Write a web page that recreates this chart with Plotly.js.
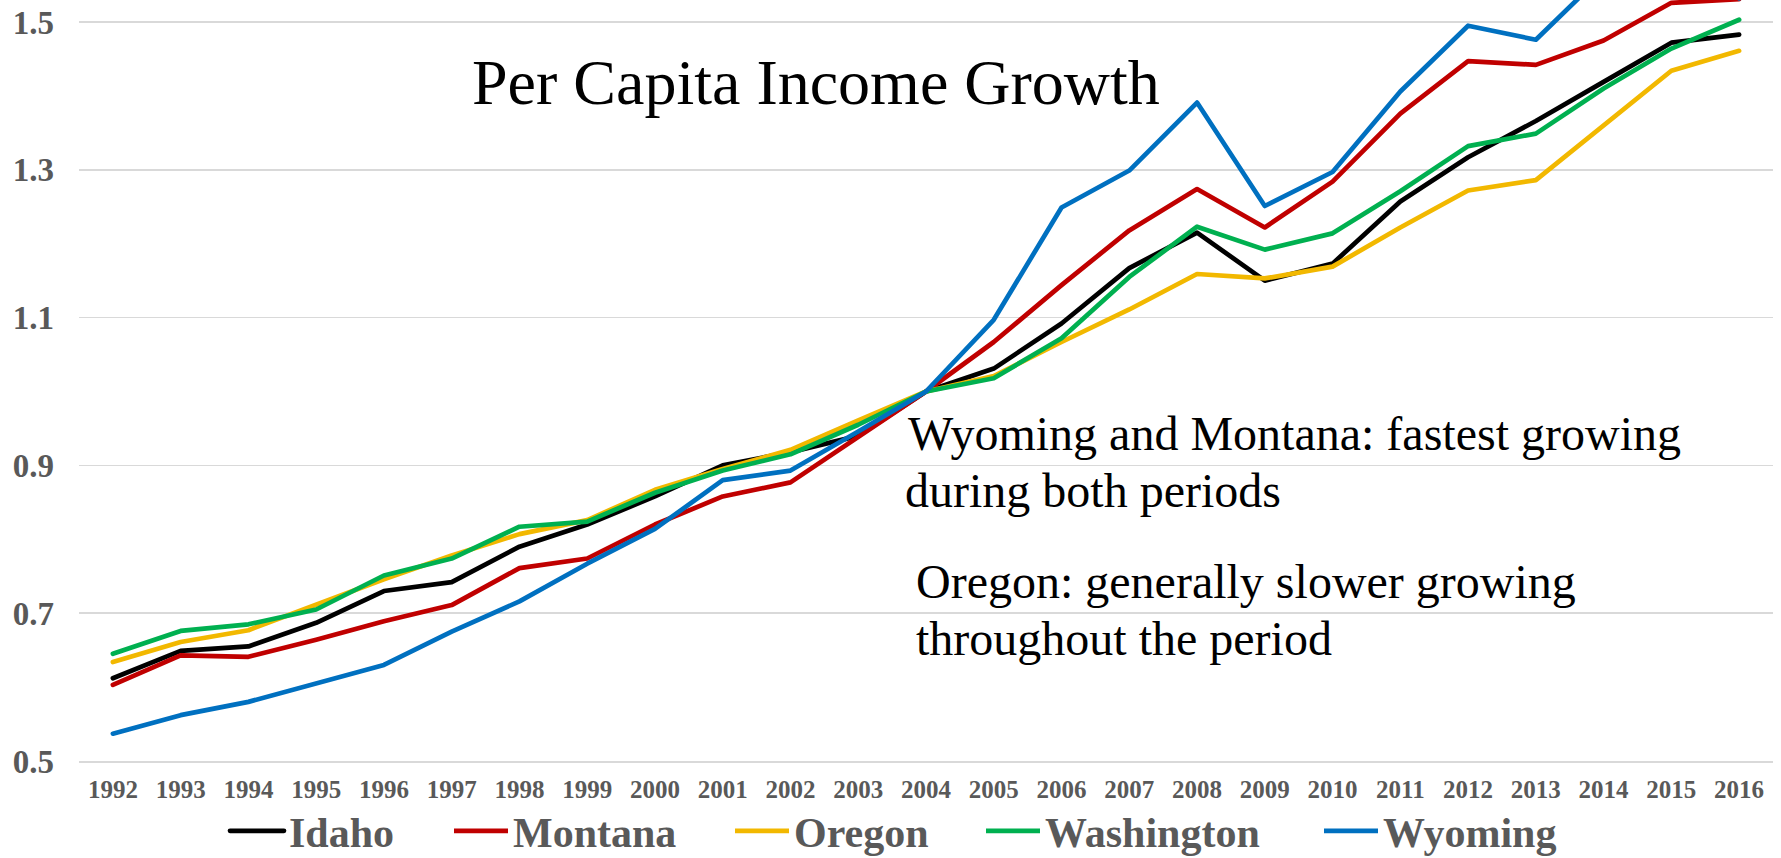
<!DOCTYPE html>
<html>
<head>
<meta charset="utf-8">
<script src="https://cdn.plot.ly/plotly-3.0.1.min.js"></script>
<style>
  html, body { margin: 0; padding: 0; background: #fff; }
  #chart { width: 1781px; height: 858px; }
  .scatterlayer .js-line { stroke-linejoin: round !important; stroke-linecap: round !important; }
  .legend .js-line { stroke-linecap: round !important; }
</style>
</head>
<body>
<div id="chart"></div>
<script>
const years = ['1992','1993','1994','1995','1996','1997','1998','1999','2000','2001','2002','2003','2004',
               '2005','2006','2007','2008','2009','2010','2011','2012','2013','2014','2015','2016'];

const idaho      = [0.612,0.649,0.655,0.687,0.730,0.742,0.790,0.820,0.858,0.900,0.918,0.940,1.000,1.031,1.092,1.167,1.215,1.150,1.173,1.257,1.317,1.366,1.419,1.472,1.483];
const montana    = [0.603,0.643,0.641,0.664,0.689,0.711,0.761,0.774,0.820,0.858,0.877,0.938,1.000,1.067,1.144,1.218,1.274,1.222,1.284,1.376,1.447,1.442,1.475,1.526,1.531];
const oregon     = [0.634,0.661,0.677,0.712,0.746,0.778,0.807,0.826,0.867,0.895,0.921,0.961,1.000,1.021,1.067,1.111,1.159,1.153,1.169,1.222,1.272,1.286,1.361,1.434,1.461];
const washington = [0.645,0.676,0.685,0.705,0.751,0.774,0.817,0.824,0.863,0.893,0.915,0.955,1.000,1.018,1.072,1.155,1.223,1.192,1.214,1.271,1.332,1.349,1.410,1.464,1.503];
const wyoming    = [0.537,0.562,0.580,0.605,0.630,0.675,0.716,0.767,0.814,0.880,0.893,0.946,1.000,1.097,1.249,1.299,1.391,1.251,1.297,1.406,1.495,1.476,1.565,1.600,1.532];

const seriesNames  = ['Idaho','Montana','Oregon','Washington','Wyoming'];
const seriesValues = [idaho, montana, oregon, washington, wyoming];
const seriesColors = ['#000000','#C00000','#F2B800','#00B050','#0070C0'];

const yTicks = [0.5, 0.7, 0.9, 1.1, 1.3, 1.5];

const titleText = 'Per Capita Income Growth';
const note1 = ['Wyoming and Montana: fastest growing', 'during both periods'];
const note2 = ['Oregon: generally slower growing', 'throughout the period'];

const W = 1781, H = 858;
const M = {l: 79, r: 8, t: 0, b: 97};
const plotW = W - M.l - M.r, plotH = H - M.t - M.b;
const px2paperX = px => (px - M.l) / plotW;
const py2paperY = py => (plotH + M.t - py) / plotH;

const legendStarts = [225, 449, 730, 981, 1319];
const legendCenterY = 831;

const FONT = '"Liberation Serif", "Times New Roman", serif';
const GRAY = '#595959';

const traces = seriesNames.map((name, i) => ({
  type: 'scatter',
  mode: 'lines',
  name: name,
  x: years,
  y: seriesValues[i],
  line: {color: seriesColors[i], width: 4.7},
  legend: i === 0 ? 'legend' : 'legend' + (i + 1),
  hoverinfo: 'skip'
}));

const layout = {
  width: W, height: H,
  margin: {l: M.l, r: M.r, t: M.t, b: M.b, pad: 0},
  paper_bgcolor: '#ffffff',
  plot_bgcolor: '#ffffff',
  showlegend: true,
  hovermode: false,
  xaxis: {
    type: 'category',
    range: [-0.5, years.length - 0.5],
    showgrid: false,
    zeroline: false,
    showline: true,
    linecolor: '#d9d9d9',
    linewidth: 1.5,
    ticks: '',
    ticklabelstandoff: 5,
    tickfont: {family: FONT, size: 25, color: GRAY, weight: 'bold'},
    automargin: false
  },
  yaxis: {
    range: [0.5, 0.5 + (plotH) / 739 * 1.0],
    tickmode: 'array',
    tickvals: yTicks,
    ticktext: yTicks.map(v => v.toFixed(1)),
    showgrid: true,
    gridcolor: '#d9d9d9',
    gridwidth: 1.5,
    zeroline: false,
    showline: false,
    ticks: '',
    ticklabelstandoff: 24,
    tickfont: {family: FONT, size: 33, color: GRAY, weight: 'bold'},
    automargin: false
  },
  annotations: [
    {text: titleText, xref: 'paper', yref: 'paper', x: px2paperX(816), y: py2paperY(82),
     xanchor: 'center', yanchor: 'middle', showarrow: false,
     font: {family: FONT, size: 64, color: '#000000'}},
    {text: note1[0], xref: 'paper', yref: 'paper', x: px2paperX(906), y: py2paperY(434),
     xanchor: 'left', yanchor: 'middle', showarrow: false,
     font: {family: FONT, size: 48, color: '#000000'}},
    {text: note1[1], xref: 'paper', yref: 'paper', x: px2paperX(903), y: py2paperY(490),
     xanchor: 'left', yanchor: 'middle', showarrow: false,
     font: {family: FONT, size: 48, color: '#000000'}},
    {text: note2[0], xref: 'paper', yref: 'paper', x: px2paperX(914), y: py2paperY(581),
     xanchor: 'left', yanchor: 'middle', showarrow: false,
     font: {family: FONT, size: 48, color: '#000000'}},
    {text: note2[1], xref: 'paper', yref: 'paper', x: px2paperX(914), y: py2paperY(638.5),
     xanchor: 'left', yanchor: 'middle', showarrow: false,
     font: {family: FONT, size: 48, color: '#000000'}}
  ]
};

seriesNames.forEach((name, i) => {
  const key = i === 0 ? 'legend' : 'legend' + (i + 1);
  layout[key] = {
    xref: 'container', yref: 'container',
    x: legendStarts[i] / W, y: 1 - legendCenterY / H,
    xanchor: 'left', yanchor: 'middle',
    orientation: 'h',
    bgcolor: 'rgba(0,0,0,0)',
    borderwidth: 0,
    itemwidth: 54,
    font: {family: FONT, size: 42, color: GRAY, weight: 'bold'}
  };
});

Plotly.newPlot('chart', traces, layout, {displayModeBar: false, staticPlot: true});
</script>
</body>
</html>
